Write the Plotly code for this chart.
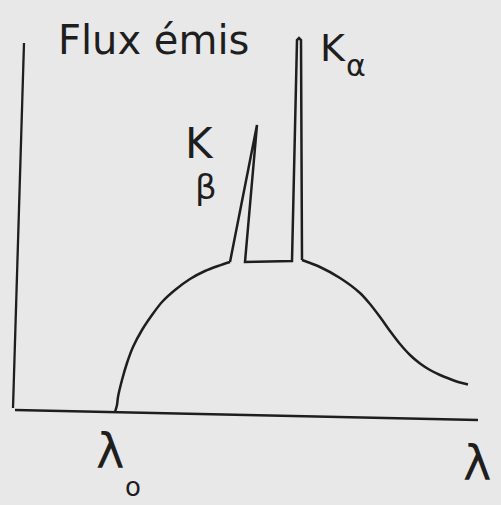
import plotly.graph_objects as go

# Sketch of an X-ray tube emission spectrum: continuous bremsstrahlung
# starting at the cut-off wavelength, with the K-beta and K-alpha lines on top.
# Coordinates are in drawing units (x to the right, y upward).

# Continuous spectrum, from the cut-off wavelength up to the K-beta line
cont_left_x = [115, 117, 118, 122, 127, 133, 142, 152, 162, 175, 190, 205, 218, 230]
cont_left_y = [93, 100, 108, 125, 142, 158, 175, 190, 203, 215, 226, 234, 239, 243]

# K-beta line, plateau and K-alpha line
lines_x = [230, 257, 245, 292, 297, 299, 301, 302]
lines_y = [243, 380, 243, 244, 465, 467, 465, 245]

# Continuous spectrum after the K-alpha line
cont_right_x = [302, 320, 340, 360, 370, 380, 390, 400, 410, 420, 430, 440, 450, 460, 468]
cont_right_y = [245, 238, 227, 212, 201, 188, 174, 161, 150, 141.5, 135, 130, 126, 122.5, 120.5]

# Hand-drawn axes (flux axis and wavelength axis)
axis_flux_x = [24, 13]
axis_flux_y = [462, 97]
axis_lambda_x = [15, 478]
axis_lambda_y = [95, 85]

ink = "#1e1e1e"
paper = "#e8e8e8"

fig = go.Figure()
fig.add_trace(go.Scatter(x=axis_flux_x, y=axis_flux_y, mode="lines",
                         line=dict(color=ink, width=2.3), hoverinfo="skip"))
fig.add_trace(go.Scatter(x=axis_lambda_x, y=axis_lambda_y, mode="lines",
                         line=dict(color=ink, width=2.3), hoverinfo="skip"))
fig.add_trace(go.Scatter(x=cont_left_x, y=cont_left_y, mode="lines",
                         line=dict(color=ink, width=2.5, shape="spline", smoothing=0.7),
                         hoverinfo="skip"))
fig.add_trace(go.Scatter(x=lines_x, y=lines_y, mode="lines",
                         line=dict(color=ink, width=2.5), hoverinfo="skip"))
fig.add_trace(go.Scatter(x=cont_right_x, y=cont_right_y, mode="lines",
                         line=dict(color=ink, width=2.5, shape="spline", smoothing=0.7),
                         hoverinfo="skip"))

hand = "DejaVu Sans"
labels = [
    ("Flux émis", 153, 465, 40),
    ("K", 333, 457, 38),
    ("α", 356, 440, 30),
    ("K", 199, 362, 42),
    ("β", 206, 318, 34),
    ("λ", 110, 54, 48),
    ("o", 133, 18, 26),
    ("λ", 477, 42, 48),
]
for text, x, y, size in labels:
    fig.add_annotation(x=x, y=y, text=text, showarrow=False, xref="x", yref="y",
                       font=dict(family=hand, size=size, color=ink),
                       xanchor="center", yanchor="middle")

fig.update_layout(
    width=501, height=505,
    margin=dict(l=0, r=0, t=0, b=0),
    paper_bgcolor=paper, plot_bgcolor=paper,
    showlegend=False,
    xaxis=dict(range=[0, 501], visible=False, fixedrange=True),
    yaxis=dict(range=[0, 505], visible=False, fixedrange=True),
)

fig.write_html("out.html")
